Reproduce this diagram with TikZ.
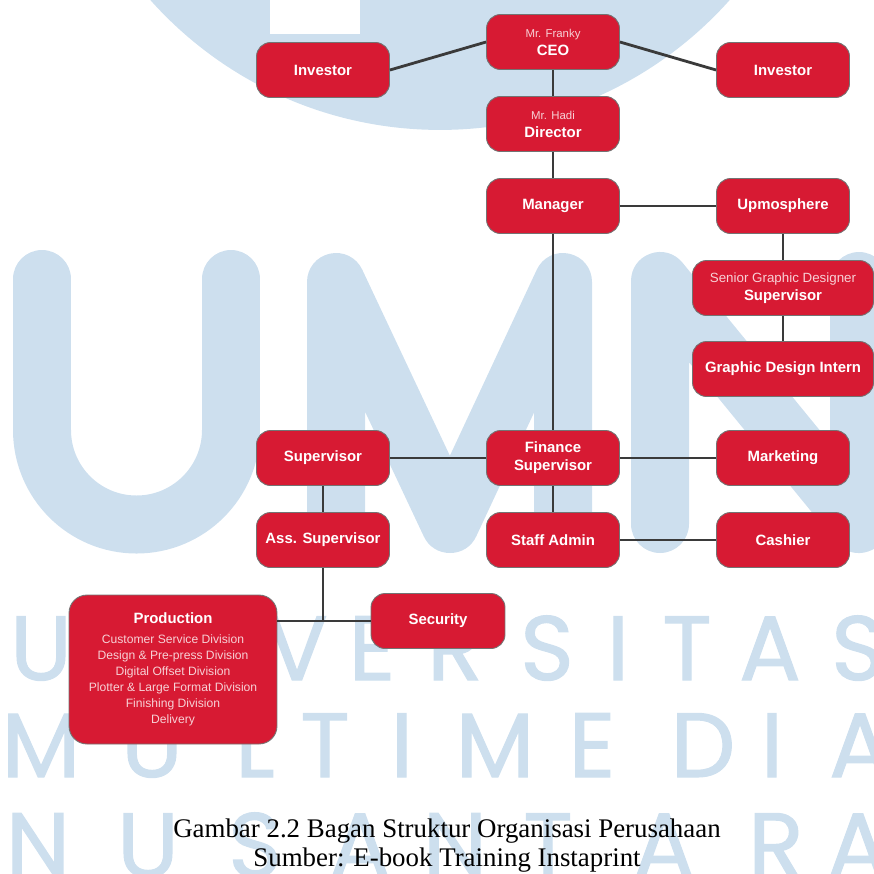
\documentclass[tikz,border=0pt]{standalone}
\usepackage{fontspec}
\setmainfont{Liberation Serif}
\setsansfont{Liberation Sans}
\newfontfamily\wmfont[FakeBold=1.2]{Poppins}
\usepackage{tikz}
\definecolor{boxred}{HTML}{D71A33}
\definecolor{linegray}{HTML}{3A3A3A}
\definecolor{umnblue}{HTML}{CDDFEE}
\colorlet{lightpink}{white!80!boxred}
\newcommand{\lighttext}[2][6.5]{{\mdseries\color{lightpink}\fontsize{#1}{8}\selectfont #2}}

\begin{document}
\begin{tikzpicture}[x=0.02cm, y=-0.02cm,
  orgbox/.style={fill=boxred, draw=black!55, line width=0.5pt, rounded corners=0.28cm,
    minimum width=2.66cm, minimum height=1.1cm, inner sep=1pt, text=white, align=center,
    font=\sffamily\bfseries\fontsize{8.5}{10.2}\selectfont},
  widebox/.style={orgbox, minimum width=3.62cm},
  link/.style={draw=linegray, line width=1.6pt},
  wmletter/.style={text=umnblue, font=\wmfont\fontsize{52}{52}\selectfont, anchor=base, inner sep=0pt},
  bigletter/.style={draw=umnblue, line width=1.16cm, line cap=round, line join=round}]

  \useasboundingbox (0,0) rectangle (874,873);

  % Watermark: logo disc and big UMN
  \begin{scope}
    \clip (0,0) rectangle (874,873);
    \fill[umnblue] (440,-258) circle[radius=7.76cm];
    \fill[white] (270,0) rectangle (360,34);
    \draw[bigletter] (42,279) -- (42,430) arc[start angle=180, end angle=0, radius=94.5] -- (231,279);
    \draw[bigletter] (336,524) -- (336,282) -- (450,524) -- (563,282) -- (563,524);
    \draw[bigletter] (660,524) -- (660,281) -- (859,524) -- (859,281);

    % Watermark: spaced university name
    \foreach \x/\ch in {41/U, 123/N, 210/I, 297/V, 372/E, 455/R, 547/S, 618/I, 687/T, 770/A, 858/S}
      \node[wmletter] (wmA\x) at (\x,680) {\ch};
    \foreach \x/\ch in {41/M, 152/U, 255/L, 325/T, 402/I, 495/M, 592/E, 703/D, 772/I, 860/A}
      \node[wmletter] (wmB\x) at (\x,777) {\ch};
    \foreach \x/\ch in {38/N, 148/U, 255/S, 360/A, 455/N, 548/T, 664/A, 776/R, 858/A}
      \node[wmletter] (wmC\x) at (\x,877) {\ch};
  \end{scope}

  % Top: owners and directors
  \node[orgbox] (ceo) at (553,42) {\lighttext{Mr. Franky}\\CEO};
  \node[orgbox] (invL) at (323,70) {Investor};
  \node[orgbox] (invR) at (783,70) {Investor};
  \node[orgbox] (dir) at (553,124) {\lighttext{Mr. Hadi}\\Director};
  \node[orgbox] (mgr) at (553,206) {Manager};

  % Design branch
  \node[orgbox] (upmo) at (783,206) {Upmosphere};
  \node[widebox] (sgd) at (783,288) {\lighttext[7.6]{Senior Graphic Designer}\\Supervisor};
  \node[widebox] (gdi) at (783,369) {Graphic Design Intern};

  % Middle row
  \node[orgbox] (sup) at (323,458) {Supervisor};
  \node[orgbox] (fin) at (553,458) {Finance\\Supervisor};
  \node[orgbox] (mkt) at (783,458) {Marketing};
  \node[orgbox] (ass) at (323,540) {Ass. Supervisor};
  \node[orgbox] (staff) at (553,540) {Staff Admin};
  \node[orgbox] (cash) at (783,540) {Cashier};

  % Production and security
  \node[orgbox, minimum width=4.16cm, minimum height=2.98cm, rounded corners=0.36cm,
    font=\sffamily\fontsize{6.9}{9.1}\selectfont, text=lightpink] (prod) at (173,669.5)
    {{\bfseries\color{white}\fontsize{8.5}{10}\selectfont Production}\\[2pt]
     Customer Service Division\\Design \& Pre-press Division\\Digital Offset Division\\
     Plotter \& Large Format Division\\Finishing Division\\Delivery};
  \node[orgbox, minimum width=2.68cm] (sec) at (438,621) {Security};

  % Connectors
  \draw[link] (ceo.west) -- (invL.east);
  \draw[link] (ceo.east) -- (invR.west);
  \draw[link] (ceo.south) -- (dir.north);
  \draw[link] (dir.south) -- (mgr.north);
  \draw[link] (mgr.east) -- (upmo.west);
  \draw[link] (upmo.south) -- (sgd.north);
  \draw[link] (sgd.south) -- (gdi.north);
  \draw[link] (mgr.south) -- (fin.north);
  \draw[link] (sup.east) -- (fin.west);
  \draw[link] (fin.east) -- (mkt.west);
  \draw[link] (sup.south) -- (ass.north);
  \draw[link] (fin.south) -- (staff.north);
  \draw[link] (staff.east) -- (cash.west);
  \coordinate (split) at (ass.south |- sec.west);
  \draw[link] (ass.south) -- (split);
  \draw[link] (prod.east |- split) -- (sec.west);

  % Caption
  \node[font=\rmfamily\fontsize{15.3}{16.5}\selectfont, anchor=base] (cap1) at (447,837)
    {Gambar 2.2 Bagan Struktur Organisasi Perusahaan};
  \node[font=\rmfamily\fontsize{15.3}{16.5}\selectfont, anchor=base] (cap2) at (447,866)
    {Sumber: E-book Training Instaprint};
\end{tikzpicture}
\end{document}
